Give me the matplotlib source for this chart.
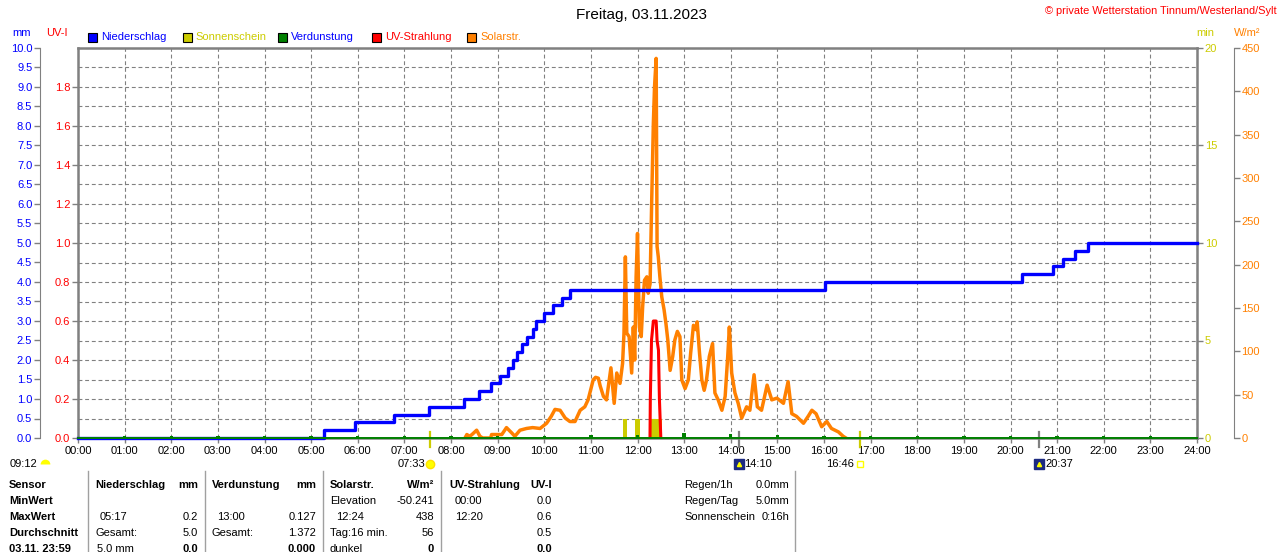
import matplotlib
matplotlib.use('Agg')
import matplotlib.pyplot as plt
from matplotlib.ticker import MultipleLocator, FixedLocator, FormatStrFormatter
from matplotlib.patches import Rectangle
from matplotlib.lines import Line2D

plt.rcParams['font.family'] = ['Liberation Sans', 'DejaVu Sans']
plt.rcParams['font.size'] = 8

# ---- data ----
hours = list(range(25))
hour_labels = ['%02d:00' % h for h in hours]

# Niederschlag (cumulative mm), step times in decimal hours
rain_t = [0, 5.27, 5.95, 6.78, 7.53, 8.27, 8.59, 8.85, 9.05, 9.23, 9.34, 9.41, 9.52,
          9.64, 9.75, 9.82, 9.99, 10.19, 10.38, 10.55, 16.02, 20.25, 20.91, 21.13,
          21.38, 21.66, 24]
rain_mm = [0, 0.2, 0.4, 0.6, 0.8, 1.0, 1.2, 1.4, 1.6, 1.8, 2.0, 2.2, 2.4,
           2.6, 2.8, 3.0, 3.2, 3.4, 3.6, 3.8, 4.0, 4.2, 4.4, 4.6,
           4.8, 5.0, 5.0]

# Solarstrahlung W/m2
solar_t = [8.30, 8.34, 8.40, 8.45, 8.55, 8.62, 8.68, 8.85, 8.87, 9.09, 9.19, 9.30,
           9.37, 9.48, 9.62, 9.75, 9.91, 10.05, 10.15, 10.23, 10.34, 10.45, 10.55,
           10.66, 10.77, 10.87, 10.94, 11.05, 11.10, 11.16,
           11.20, 11.27, 11.335, 11.43, 11.50, 11.555, 11.625, 11.68, 11.71, 11.74,
           11.77, 11.82, 11.875, 11.91, 11.94, 11.97, 12.00, 12.04, 12.08, 12.11,
           12.15, 12.20, 12.23, 12.27, 12.305, 12.34, 12.365, 12.40, 12.42, 12.446,
           12.48, 12.52, 12.57, 12.61, 12.65, 12.70, 12.755, 12.80, 12.855, 12.91,
           12.95, 13.02, 13.09, 13.14, 13.20, 13.255, 13.28, 13.33, 13.38, 13.43,
           13.48, 13.54, 13.61, 13.66, 13.73, 13.81, 13.88, 13.935, 13.97, 14.02,
           14.09, 14.16, 14.235, 14.34, 14.41, 14.50, 14.57,
           14.66, 14.78, 14.88, 14.99, 15.13, 15.23, 15.31, 15.41, 15.56, 15.66,
           15.74, 15.83, 15.95, 16.06, 16.16, 16.31, 16.41, 16.47]
solar_w = [0, 4, 2, 4, 9, 2, 0, 0, 4, 4, 12, 6,
           2, 9, 11, 12, 11, 17, 25, 33, 32, 23, 19,
           19, 32, 36, 44, 67, 70, 69,
           60, 48, 44, 81, 40, 75, 63, 86, 121, 209,
           121, 117, 75, 128, 90, 186, 236, 128, 117, 151,
           182, 186, 167, 178, 275, 363, 405, 438, 221, 209,
           186, 163, 148, 132, 113, 78, 94, 113, 123, 117,
           67, 57, 67, 98, 130, 125, 134, 98, 67, 55,
           67, 94, 109, 52, 44, 32, 48, 94, 128, 75,
           52, 40, 23, 36, 32, 73, 36,
           32, 61, 44, 46, 40, 65, 28, 25, 17, 25,
           32, 28, 13, 19, 11, 7, 2, 0]

# UV-Strahlung UV-I
uv_t = [12.268, 12.275, 12.30, 12.34, 12.40, 12.42, 12.45, 12.47, 12.50]
uv_v = [0, 0.2, 0.5, 0.6, 0.6, 0.5, 0.45, 0.2, 0]

# Sonnenschein (min per interval)
sun_t = [11.73, 12.00, 12.30, 12.39, 12.48]
sun_min = [1.0, 1.0, 1.0, 1.0, 1.0]

# Verdunstung (mm per hour)
evap_t = list(range(1, 24))
evap_mm = [0.05, 0.05, 0.05, 0.05, 0.04, 0.04, 0.05, 0.05, 0.05, 0.06, 0.07, 0.08,
           0.127, 0.09, 0.07, 0.06, 0.05, 0.05, 0.05, 0.05, 0.05, 0.05, 0.05]

# sun / moon events below the time axis
sunrise, sunset = 7.55, 16.767
moonrise, moonset = 14.167, 20.617

legend_names = ['Niederschlag', 'Sonnenschein', 'Verdunstung', 'UV-Strahlung', 'Solarstr.']
legend_box = ['#0000FF', '#CCCC00', '#008000', '#FF0000', '#FF8000']
legend_text = ['#0000FF', '#CCCC00', '#0000FF', '#FF0000', '#FF8000']

row_names = ['Sensor', 'MinWert', 'MaxWert', 'Durchschnitt', '03.11. 23:59']
nied_left = ['', '05:17', 'Gesamt:', '5.0 mm']
nied_right = ['', '0.2', '5.0', '0.0']
verd_left = ['', '13:00', 'Gesamt:', '']
verd_right = ['', '0.127', '1.372', '0.000']
solar_left = ['Elevation', '12:24', 'Tag:16 min.', 'dunkel']
solar_right = ['-50.241', '438', '56', '0']
uvt_left = ['00:00', '12:20', '', '']
uvt_right = ['0.0', '0.6', '0.5', '0.0']
info_left = ['Regen/1h', 'Regen/Tag', 'Sonnenschein']
info_right = ['0.0mm', '5.0mm', '0:16h']

BLUE, RED, YEL, ORA, GRN, GRAY = '#0000FF', '#FF0000', '#CCCC00', '#FF8000', '#008000', '#808080'

# ---- figure ----
W, H = 1280, 552
fig = plt.figure(figsize=(W / 100, H / 100), dpi=100)
fig.patch.set_facecolor('white')
L, R, T, B = 78, 1197, 48, 438


def fx(x):
    return x / W


def fy(y):
    return 1 - y / H


def ya(y):
    return (B - y) / (B - T)


host = fig.add_axes([fx(L), fy(B), (R - L) / W, (B - T) / H])
ax_w = host.twinx()
ax_uv = host.twinx()
ax_mm = host.twinx()
for a in (host, ax_w, ax_mm, ax_uv):
    a.set_xlim(0, 24)
    a.patch.set_visible(False)
    for s in a.spines.values():
        s.set_visible(False)

grid_kw = dict(color=GRAY, linestyle=(0, (3.5, 2.5)), linewidth=0.8)

# host: Sonnenschein (min), right spine of the plot box
host.set_ylim(0, 20)
host.yaxis.tick_right()
host.yaxis.set_major_locator(FixedLocator([0, 5, 10, 15, 20]))
host.yaxis.set_minor_locator(MultipleLocator(1))
host.yaxis.set_major_formatter(FormatStrFormatter('%d'))
host.tick_params(axis='y', which='major', colors=GRAY, labelcolor=YEL, length=4, width=1, pad=1.5, labelsize=8)
host.tick_params(axis='y', which='minor', length=0)
host.set_xticks(hours)
host.set_xticklabels(hour_labels)
host.tick_params(axis='x', colors=GRAY, labelcolor='black', length=3.5, width=1, pad=2, labelsize=8)
host.grid(axis='x', **grid_kw)
host.grid(axis='y', which='both', **grid_kw)
host.set_axisbelow(True)
for side in ('left', 'top', 'right', 'bottom'):
    host.spines[side].set_visible(True)
    host.spines[side].set_color(GRAY)
    host.spines[side].set_linewidth(1.8)
host.bar(sun_t, sun_min, width=0.095, color=YEL, zorder=2)

# Solarstrahlung W/m2, outer right axis
ax_w.set_ylim(0, 450)
ax_w.yaxis.set_major_locator(MultipleLocator(50))
ax_w.spines['right'].set_visible(True)
ax_w.spines['right'].set_position(('outward', 26.6))
ax_w.spines['right'].set_color(GRAY)
ax_w.tick_params(axis='y', colors=GRAY, labelcolor=ORA, length=4, width=1, pad=1.5, labelsize=8)
ax_w.plot(solar_t, solar_w, color=ORA, lw=2.5)

# UV-I, inner left axis
ax_uv.set_ylim(0, 2.0)
ax_uv.yaxis.tick_left()
ax_uv.yaxis.set_major_locator(FixedLocator([0.2 * i for i in range(10)]))
ax_uv.yaxis.set_major_formatter(FormatStrFormatter('%.1f'))
ax_uv.tick_params(axis='y', colors=GRAY, labelcolor=RED, length=4, width=1, pad=1.5, labelsize=8)
ax_uv.plot(uv_t, uv_v, color=RED, lw=2.2)

# Niederschlag / Verdunstung mm, outer left axis
ax_mm.set_ylim(0, 10)
ax_mm.yaxis.tick_left()
ax_mm.yaxis.set_major_locator(MultipleLocator(0.5))
ax_mm.yaxis.set_major_formatter(FormatStrFormatter('%.1f'))
ax_mm.spines['left'].set_visible(True)
ax_mm.spines['left'].set_position(('outward', 27.4))
ax_mm.spines['left'].set_color(GRAY)
ax_mm.tick_params(axis='y', colors=GRAY, labelcolor=BLUE, length=4, width=1, pad=1.5, labelsize=8)
ax_mm.plot(rain_t, rain_mm, drawstyle='steps-post', color=BLUE, lw=2.4, zorder=2, clip_on=False)
ax_mm.axhline(0, color=GRN, lw=1.4, zorder=5, clip_on=False)
ax_mm.bar(evap_t, evap_mm, width=0.07, color=GRN, zorder=6)

# ---- events under the time axis ----
xt = host.get_xaxis_transform()
for t, col in ((sunrise, YEL), (sunset, YEL), (moonrise, GRAY), (moonset, GRAY)):
    host.add_line(Line2D([t, t], [ya(432), ya(447)], transform=xt, color=col, lw=1.6, clip_on=False))

host.annotate('07:33', xy=(sunrise, ya(464)), xycoords=xt, xytext=(-5, 0), textcoords='offset pixels',
              ha='right', va='center', fontsize=8, annotation_clip=False)
host.plot([sunrise], [ya(464)], marker='o', ms=6, color='#FFFF00', mec='#FFE000', transform=xt, clip_on=False)
host.annotate('16:46', xy=(sunset, ya(464)), xycoords=xt, xytext=(-6, 0), textcoords='offset pixels',
              ha='right', va='center', fontsize=8, annotation_clip=False)
host.plot([sunset], [ya(464)], marker='s', ms=4, mfc='white', mec='#FFFF00', mew=1, transform=xt, clip_on=False)
for t, lab in ((moonrise, '14:10'), (moonset, '20:37')):
    host.plot([t], [ya(464)], marker='s', ms=6.5, color='#1C2A80', transform=xt, clip_on=False)
    host.plot([t], [ya(464)], marker='^', ms=3, color='#FFFF00', transform=xt, clip_on=False)
    host.annotate(lab, xy=(t, ya(464)), xycoords=xt, xytext=(6, 0), textcoords='offset pixels',
                  ha='left', va='center', fontsize=8, annotation_clip=False)

fig.text(fx(10), fy(464), '09:12', ha='left', va='center', fontsize=8)
fig.add_artist(Line2D([fx(45)], [fy(464)], marker='o', ms=7, color='#FFFF00', mec='#FFE000',
                      fillstyle='top', markerfacecoloralt='none', mew=0))

# ---- header ----
fig.text(fx(642), fy(15), 'Freitag, 03.11.2023', ha='center', va='center', fontsize=11)
fig.text(fx(1277), fy(11), '\u00a9 private Wetterstation Tinnum/Westerland/Sylt', ha='right', va='center',
         color=RED, fontsize=7.9)
fig.text(fx(22), fy(33), 'mm', ha='center', va='center', color=BLUE, fontsize=8)
fig.text(fx(57), fy(33), 'UV-I', ha='center', va='center', color=RED, fontsize=8)
fig.text(fx(1205), fy(33), 'min', ha='center', va='center', color=YEL, fontsize=8)
fig.text(fx(1247), fy(33), 'W/m\u00b2', ha='center', va='center', color=ORA, fontsize=8)

for i, name in enumerate(legend_names):
    x0 = 88 + i * 94.75
    fig.add_artist(Rectangle((fx(x0), fy(42)), 9 / W, 9 / H, transform=fig.transFigure,
                             facecolor=legend_box[i], edgecolor='black', lw=0.8))
    fig.text(fx(x0 + 13), fy(37.5), name, ha='left', va='center', color=legend_text[i], fontsize=8)

# ---- table ----
rows_y = [485, 501, 517, 533, 549]
for x in (88, 205, 323, 441, 795):
    fig.add_artist(Line2D([fx(x), fx(x)], [fy(471), fy(552)], color='#A0A0A0', lw=1))

for name, y in zip(row_names, rows_y):
    fig.text(fx(9), fy(y), name, ha='left', va='center', fontweight='bold', fontsize=8)

heads = [('Niederschlag', 'mm', 95, 198), ('Verdunstung', 'mm', 212, 316),
         ('Solarstr.', 'W/m\u00b2', 330, 434), ('UV-Strahlung', 'UV-I', 449, 552)]
for h_left, h_right, xl, xr in heads:
    fig.text(fx(xl), fy(rows_y[0]), h_left, ha='left', va='center', fontweight='bold', fontsize=8)
    fig.text(fx(xr), fy(rows_y[0]), h_right, ha='right', va='center', fontweight='bold', fontsize=8)

cols = [(nied_left, nied_right, 95, 198, [0, 5, 0, 2]),
        (verd_left, verd_right, 212, 316, [0, 5, 0, 0]),
        (solar_left, solar_right, 330, 434, [0, 6, 0, 0]),
        (uvt_left, uvt_right, 455, 552, [0, 0, 0, 0])]
for lefts, rights, xl, xr, indent in cols:
    for k in range(4):
        y = rows_y[k + 1]
        if lefts[k]:
            fig.text(fx(xl + indent[k]), fy(y), lefts[k], ha='left', va='center', fontsize=8)
        if rights[k]:
            fig.text(fx(xr), fy(y), rights[k], ha='right', va='center', fontsize=8,
                     fontweight='bold' if k == 3 else 'normal')

for k in range(3):
    fig.text(fx(684), fy(rows_y[k]), info_left[k], ha='left', va='center', fontsize=8)
    fig.text(fx(789), fy(rows_y[k]), info_right[k], ha='right', va='center', fontsize=8)

fig.savefig('out.png', dpi=100)
